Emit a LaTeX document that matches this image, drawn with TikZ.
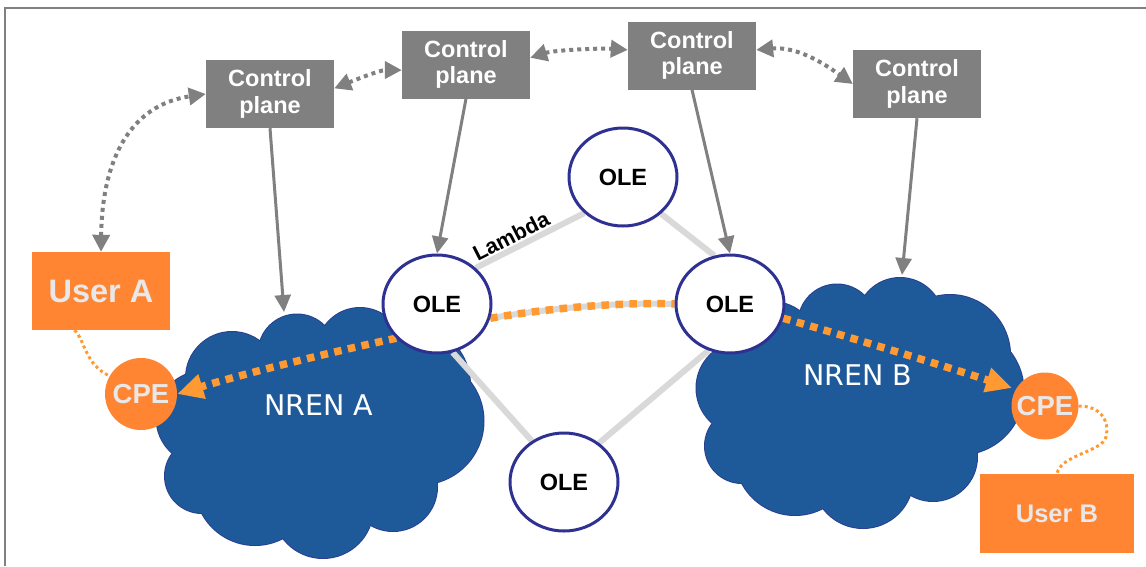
\documentclass[tikz,border=0pt]{standalone}
\usepackage{fontspec}
\setmainfont{Liberation Sans}
\newfontfamily\nrenfont{DejaVu Sans}
\usetikzlibrary{arrows.meta,shapes.geometric,calc}

\definecolor{cpgray}{HTML}{808080}
\definecolor{linkgray}{HTML}{D9D9D9}
\definecolor{oleblue}{HTML}{2E3192}
\definecolor{cloudblue}{HTML}{1E5A99}
\definecolor{cloudedge}{HTML}{2B3F8F}
\definecolor{userorange}{HTML}{FF8533}
\definecolor{pathorange}{HTML}{FF9A33}
\definecolor{paletext}{HTML}{E8E8E8}

\pgfdeclarelayer{cloudlayer}
\pgfdeclarelayer{linklayer}
\pgfsetlayers{cloudlayer,linklayer,main}

% puffs of one network cloud: offset x / offset y / radius
\def\cloudpuffs{-88/-52/46, -23/-77/38.5, 40/-79/43, 90/-45/60, 100/-9/63.5,
  73/57/44, 3/78/50, -65/55/60, -118/46/37, -117/-12/46.5, -5/5/85}

\newcommand\netcloud[1]{%
  \begin{scope}[shift={#1}]
    \foreach \dx/\dy/\r in \cloudpuffs
      \draw[cloudedge, line width=2pt] (\dx,\dy) circle[radius=\r pt];
    \foreach \dx/\dy/\r in \cloudpuffs
      \fill[cloudblue] (\dx,\dy) circle[radius=\r pt];
  \end{scope}}

\tikzset{
  cpbox/.style={fill=cpgray, text=white, align=center, inner sep=0pt,
    minimum width=128pt, minimum height=68pt,
    font=\bfseries\fontsize{23.5}{26.5}\selectfont},
  ole/.style={ellipse, draw=oleblue, line width=3pt, fill=white, inner sep=0pt,
    minimum width=108pt, minimum height=98pt,
    font=\bfseries\fontsize{23.5}{26}\selectfont},
  userbox/.style={fill=userorange, text=paletext, inner sep=0pt},
  cpe/.style={circle, fill=userorange, text=paletext, inner sep=0pt,
    font=\bfseries\fontsize{27.5}{30}\selectfont},
  nren/.style={text=white, font=\nrenfont\fontsize{28.5}{32}\selectfont},
  ctrlarrow/.style={draw=cpgray, line width=3pt, -{Triangle[length=17pt,width=16pt]}},
  signal/.style={draw=cpgray, line width=4pt, dash pattern=on 4pt off 4pt,
    {Triangle[length=17pt,width=17pt]}-{Triangle[length=17pt,width=17pt]}},
  lambdalink/.style={draw=linkgray, line width=6pt},
  lightpath/.style={draw=pathorange, line width=7.5pt, dash pattern=on 7.5pt off 6.5pt},
  lightarrow/.style={lightpath, -{Triangle[length=26pt,width=24pt]}},
  access/.style={draw=pathorange, line width=3pt, dash pattern=on 3pt off 3pt},
}

\begin{document}
\begin{tikzpicture}[x=1pt,y=-1pt]
\useasboundingbox (0,0) rectangle (1146,566);

% frame
\draw[cpgray, line width=2pt] (5,566) -- (5,7.5) -- (1146,7.5);

% network clouds
\begin{pgfonlayer}{cloudlayer}
  \netcloud{(320,430)}
  \netcloud{(860,400)}
\end{pgfonlayer}

% control plane boxes
\node[cpbox] (cp1) at (270,94)   {Control\\plane};
\node[cpbox] (cp2) at (466,64.5) {Control\\plane};
\node[cpbox] (cp3) at (692,55.5) {Control\\plane};
\node[cpbox] (cp4) at (917,84)   {Control\\plane};

% optical switching elements
\node[ole] (oleT) at (623,177) {OLE};
\node[ole] (oleL) at (437,304) {OLE};
\node[ole] (oleR) at (730,304) {OLE};
\node[ole] (oleB) at (564,482) {OLE};

% end users and their equipment
\node[userbox, minimum width=138pt, minimum height=78pt,
  font=\bfseries\fontsize{32.5}{36}\selectfont] (ua) at (101,291) {User A};
\node[userbox, minimum width=154pt, minimum height=79pt,
  font=\bfseries\fontsize{25.5}{30}\selectfont] (ub) at (1057,513.5) {User B};
\node[cpe, minimum size=72pt] (cpeA) at (141,394) {CPE};
\node[cpe, minimum size=67pt] (cpeB) at (1045,406) {CPE};

% network labels
\node[nren] (nA) at (319,405) {NREN A};
\node[nren] (nB) at (858,375) {NREN B};
\node[font=\bfseries\fontsize{21.5}{24}\selectfont, rotate=27, inner sep=0pt]
  (lam) at (511,236) {Lambda};

% cloud entry points of the control arrows
\coordinate (tA) at (284,312);
\coordinate (tB) at (902,275);

% lambdas and the end-to-end lightpath
\begin{pgfonlayer}{linklayer}
  \draw[lambdalink] (oleL.43) -- (oleT.223);
  \draw[lambdalink] (oleT.-44) -- (oleR.108);
  \draw[lambdalink] (oleL.-72) -- (oleB.128);
  \draw[lambdalink] (oleB.48) -- (oleR.245);
  \draw[lambdalink] (oleL.-15) .. controls (550,308) and (620,302) .. (oleR.180);
  \draw[lightpath] (oleL.-15) .. controls (550,308) and (620,302) .. (oleR.180);
  \draw[lightarrow] (oleL.220) .. controls (340,350) and (250,372) .. (cpeA.east);
  \draw[lightarrow, shorten >=4pt] (oleR.-15) .. controls (860,340) and (950,368) .. (cpeB.150);
  \draw[access] (ua.-124) .. controls (85,340) and (85,365) .. (cpeA.150);
  \draw[access] (cpeB.east) .. controls (1100,406) and (1110,420) .. (1106,437)
    .. controls (1102,452) and (1060,455) .. (ub.north);
\end{pgfonlayer}

% control plane signalling
\draw[signal] (ua.north) .. controls (102,160) and (130,105) .. (cp1.west);
\draw[signal] (cp1.5) .. controls (355,80) and (380,70) .. (cp2.185);
\draw[signal] (cp2.6) .. controls (555,50) and (600,48) .. (cp3.175);
\draw[signal] (cp3.5) .. controls (800,46) and (830,68) .. (cp4.west);

% control of the network elements
\draw[ctrlarrow] (cp1.south) -- (tA);
\draw[ctrlarrow] (cp2.south) -- (oleL.north);
\draw[ctrlarrow] (cp3.south) -- (oleR.north);
\draw[ctrlarrow] (cp4.south) -- (tB);
\end{tikzpicture}
\end{document}
